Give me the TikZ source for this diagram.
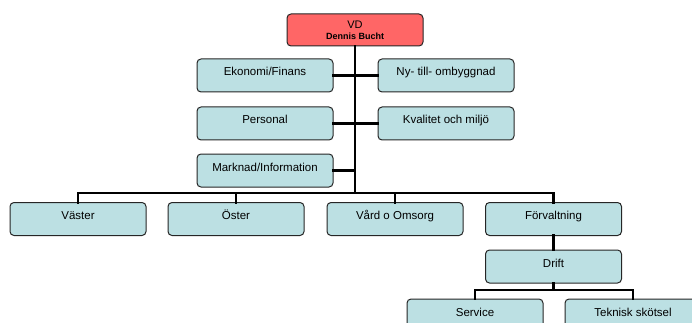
\documentclass[tikz,border=0pt]{standalone}
\usepackage{fontspec}
\setmainfont{Liberation Sans}
\usetikzlibrary{
  calc,
  positioning,
}
\definecolor{boxblue}{RGB}{188,224,227}
\definecolor{boxred}{RGB}{255,102,102}

\begin{document}
\begin{tikzpicture}[
    x = 1pt,
    y = -1pt,
    n/.style={
      draw=black!85, line width=1pt, rounded corners=4pt,
      fill=boxblue, minimum width=136pt, minimum height=33pt,
      inner xsep=0pt, inner ysep=0pt, outer sep=0pt,
      text height=17pt, text depth=16pt,
      font=\fontsize{11.5}{13}\selectfont,
    },
    top/.style={n, fill=boxred, minimum height=32pt,
      text height=, text depth=, align=center,
      font=\fontsize{11}{12}\selectfont},
    l/.style={line width=2.5pt, line cap=rect},]
  \clip (0,0) rectangle (692,323);
  \node[top] (VD) at (355,30)
  {VD\\[-1pt]{\fontsize{9}{10}\selectfont\bfseries Dennis Bucht}};
  %%
  \node[n] (Eko) at (265,75.5) {Ekonomi/Finans};
  \node[n] (Ny) at (446,75.5) {Ny- till- ombyggnad};
  \node[n] (Pers) at (265,123.5) {Personal};
  \node[n] (Kval) at (446,123.5) {Kvalitet och miljö};
  \node[n] (Mark) at (265,170.5) {Marknad/Information};
  %%
  \node[n] (Vast) at (78,219) {Väster};
  \node[n] (Ost) at (236,219) {Öster};
  \node[n] (Vard) at (395,219) {Vård o Omsorg};
  \node[n] (Forv) at (553.5,219) {Förvaltning};
  \node[n] (Drift) at (553.5,266.5) {Drift};
  \node[n] (Serv) at (475,315.5) {Service};
  \node[n] (Tekn) at (633,315.5) {Teknisk skötsel};
  %%
  \coordinate (bus) at (355,193);
  \coordinate (dbus) at (553.5,290);
  %%
  \draw[l] (VD.south) -- (bus);
  \foreach \s in {Eko,Pers,Mark}
    \draw[l] (\s.east) -- (\s.east -| bus);
  \foreach \s in {Ny,Kval}
    \draw[l] (\s.west) -- (\s.west -| bus);
  \foreach \s in {Vast,Ost,Vard,Forv}
    \draw[l] (bus) -| (\s.north);
  %%
  \draw[l] (Forv.south) -- (Drift.north);
  \draw[l] (Drift.south) -- (dbus);
  \foreach \s in {Serv,Tekn}
    \draw[l] (dbus) -| (\s.north);
\end{tikzpicture}
\end{document}
